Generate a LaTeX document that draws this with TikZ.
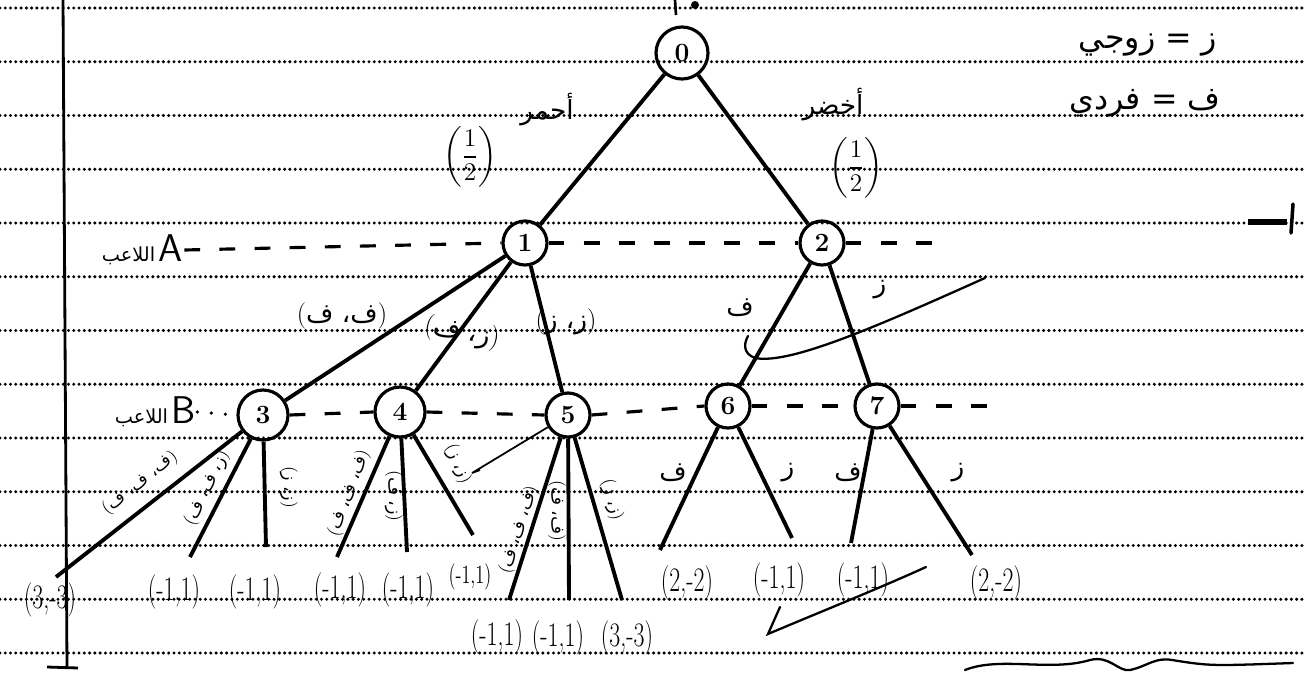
\documentclass[tikz,border=0pt]{standalone}
\usepackage{amsmath}
\usepackage{graphicx}
\usepackage{fontspec}
\newfontfamily\arabicfont[Script=Arabic]{DejaVu Sans}
\TeXXeTstate=1
\newcommand{\arab}[1]{{\arabicfont\beginR #1\endR}}
\newcommand{\pay}[1]{\scalebox{0.8}[1.15]{#1}}
\tikzset{
  state/.style={circle, draw, line width=1.8pt, inner sep=0pt, minimum size=0.88cm,
    font=\fontsize{15}{15}\selectfont\bfseries},
  branch/.style={line width=2.2pt},
  infoset/.style={line width=1.8pt, dash pattern=on 9pt off 11pt},
  ruling/.style={line width=1.9pt, line cap=round, dash pattern=on 0pt off 3pt},
  payoff/.style={font=\fontsize{17}{17}\selectfont, inner sep=0pt},
  move/.style={font=\fontsize{15}{18}\selectfont, inner sep=1pt},
  smallmove/.style={font=\fontsize{10}{11}\selectfont, inner sep=0pt},
  scribble/.style={line width=1.3pt, line cap=round},
}
\begin{document}
\begin{tikzpicture}[x=0.02cm, y=-0.02cm]
  \useasboundingbox (0,0) rectangle (1315,673);

  % --- ruled paper ---
  \foreach \k in {0,...,12} {
    \draw[ruling] (0, 8+53.75*\k) -- (1305, 8+53.75*\k);
  }
  \draw[line width=1.6pt] (63,0) -- (67,668);
  \draw[line width=1.6pt] (47,667) -- (78,668);

  % --- legend ---
  \node[move, font=\fontsize{18}{20}\selectfont] (even) at (1148,45) {\arab{ز = زوجي}};
  \node[move, font=\fontsize{18}{20}\selectfont] (odd) at (1145,103) {\arab{ف = فردي}};

  % --- decision nodes ---
  \node[state, minimum size=1.04cm] (n0) at (682,53) {0};
  \node[state] (n1) at (525,243) {1};
  \node[state] (n2) at (822,243) {2};
  \node[state, minimum size=1.0cm] (n3) at (263,415) {3};
  \node[state, minimum size=1.0cm] (n4) at (400,412) {4};
  \node[state] (n5) at (568,415) {5};
  \node[state] (n6) at (728,406) {6};
  \node[state] (n7) at (877,406) {7};

  % --- players ---
  \node[inner sep=1pt] (labA) at (142,250) {{\fontsize{11}{12}\selectfont\arab{اللاعب}}\,{\fontsize{22}{22}\selectfont\sffamily A}};
  \node[inner sep=1pt] (labB) at (155,412) {{\fontsize{11}{12}\selectfont\arab{اللاعب}}\,{\fontsize{22}{22}\selectfont\sffamily B}};
  \coordinate (endA) at (935,243);
  \coordinate (endB) at (1000,406);

  \draw[infoset] (labA.east) -- (n1.west);
  \draw[infoset] (n1.east) -- (n2.west);
  \draw[infoset] (n2.east) -- (endA);
  \draw[line width=2pt, line cap=round, dash pattern=on 0pt off 8pt] (labB.east) -- (n3.west);
  \draw[infoset] (n3.east) -- (n4.west);
  \draw[infoset] (n4.east) -- (n5.west);
  \draw[infoset] (n5.east) -- (n6.west);
  \draw[infoset] (n6.east) -- (n7.west);
  \draw[infoset] (n7.east) -- (endB);

  % --- chance moves ---
  \draw[branch] (n0) -- (n1);
  \draw[branch] (n0) -- (n2);
  \node[move] (red) at (547,110) {\arab{أحمر}};
  \node[move, font=\fontsize{14}{14}\selectfont] (pr) at (470,157) {$\left(\dfrac{1}{2}\right)$};
  \node[move] (green) at (833,105) {\arab{أخضر}};
  \node[move, font=\fontsize{14}{14}\selectfont] (pg) at (856,168) {$\left(\dfrac{1}{2}\right)$};

  % --- moves of A ---
  \draw[branch] (n1) -- (n3);
  \draw[branch] (n1) -- (n4);
  \draw[branch] (n1) -- (n5);
  \draw[branch] (n2) -- (n6);
  \draw[branch] (n2) -- (n7);
  \node[move] (a13) at (342,316) {(\arab{ف، ف})};
  \node[move, rotate=-10] (a14) at (462,333) {(\arab{ز، ف})};
  \node[move] (a15) at (566,322) {(\arab{ز، ز})};
  \node[move] (a26) at (740,308) {\arab{ف}};
  \node[move] (a27) at (880,290) {\arab{ز}};

  % --- moves of B ---
  \coordinate (l3a) at (56,577);
  \coordinate (l3b) at (190,557);
  \coordinate (l3c) at (266,547);
  \coordinate (l4a) at (337,557);
  \coordinate (l4b) at (407,552);
  \coordinate (l4c) at (473,535);
  \coordinate (l5a) at (509,600);
  \coordinate (l5b) at (569,600);
  \coordinate (l5c) at (622,600);
  \coordinate (l6a) at (660,550);
  \coordinate (l6b) at (792,538);
  \coordinate (l7a) at (851,543);
  \coordinate (l7b) at (972,555);
  \foreach \s/\t in {n3/l3a, n3/l3b, n3/l3c, n4/l4a, n4/l4b, n4/l4c,
                     n5/l5a, n5/l5b, n5/l5c, n6/l6a, n6/l6b, n7/l7a, n7/l7b} {
    \draw[branch] (\s) -- (\t);
  }

  \node[smallmove, rotate=38] (b3a) at (140,483) {(\arab{ف، ف، ف})};
  \node[smallmove, rotate=64] (b3b) at (207,488) {(\arab{ز، ف، ف})};
  \node[smallmove, rotate=-90] (b3c) at (289,487) {(\arab{ز، ز})};
  \node[smallmove, rotate=70] (b4a) at (349,493) {(\arab{ف، ف، ف})};
  \node[smallmove, rotate=-90] (b4b) at (394,496) {(\arab{ز، ف})};
  \node[smallmove, rotate=-67] (b4c) at (458,464) {(\arab{ز، ز})};
  \node[smallmove, rotate=72] (b5a) at (519,530) {(\arab{ف، ف، ف})};
  \node[smallmove, rotate=-90] (b5b) at (557,511) {(\arab{ف، ف})};
  \node[smallmove, rotate=-75] (b5c) at (612,500) {(\arab{ز، ز})};
  \node[move] (b6a) at (673,473) {\arab{ف}};
  \node[move] (b6b) at (788,473) {\arab{ز}};
  \node[move] (b7a) at (848,473) {\arab{ف}};
  \node[move] (b7b) at (958,473) {\arab{ز}};

  % --- payoffs ---
  \node[payoff] (p3a) at (50,600) {\pay{(3,-3)}};
  \node[payoff] (p3b) at (174,592) {\pay{(-1,1)}};
  \node[payoff] (p3c) at (255,592) {\pay{(-1,1)}};
  \node[payoff] (p4a) at (340,590) {\pay{(-1,1)}};
  \node[payoff] (p4b) at (408,590) {\pay{(-1,1)}};
  \node[payoff, font=\fontsize{13}{13}\selectfont] (p4c) at (470,577) {\pay{(-1,1)}};
  \node[payoff] (p5a) at (497,637) {\pay{(-1,1)}};
  \node[payoff] (p5b) at (558,638) {\pay{(-1,1)}};
  \node[payoff] (p5c) at (627,638) {\pay{(3,-3)}};
  \node[payoff] (p6a) at (687,583) {\pay{(2,-2)}};
  \node[payoff] (p6b) at (779,580) {\pay{(-1,1)}};
  \node[payoff] (p7a) at (863,580) {\pay{(-1,1)}};
  \node[payoff] (p7b) at (996,583) {\pay{(2,-2)}};

  % --- pen marks ---
  \draw[scribble] (985,278) .. controls (880,325) and (790,365) .. (755,358)
    .. controls (744,354) and (743,345) .. (748,336);
  \coordinate (hook) at (472,473);
  \draw[line width=1pt] (n5) -- (hook) -- (480,470);
  \draw[scribble] (780,607) -- (768,634) .. controls (820,612) and (880,588) .. (926,567);
  \draw[scribble] (965,670) .. controls (1000,656) and (1050,672) .. (1090,660)
    .. controls (1110,655) and (1118,672) .. (1130,670)
    .. controls (1148,666) and (1155,657) .. (1172,660)
    .. controls (1210,666) .. (1293,663);
  \draw[line width=3pt] (1248,222) -- (1287,222);
  \draw[line width=2pt, line cap=round] (1293,204) -- (1291,233);
  \draw[line width=1.5pt] (675,0) -- (676,15);
  \fill (695,5) circle (4);
\end{tikzpicture}
\end{document}
